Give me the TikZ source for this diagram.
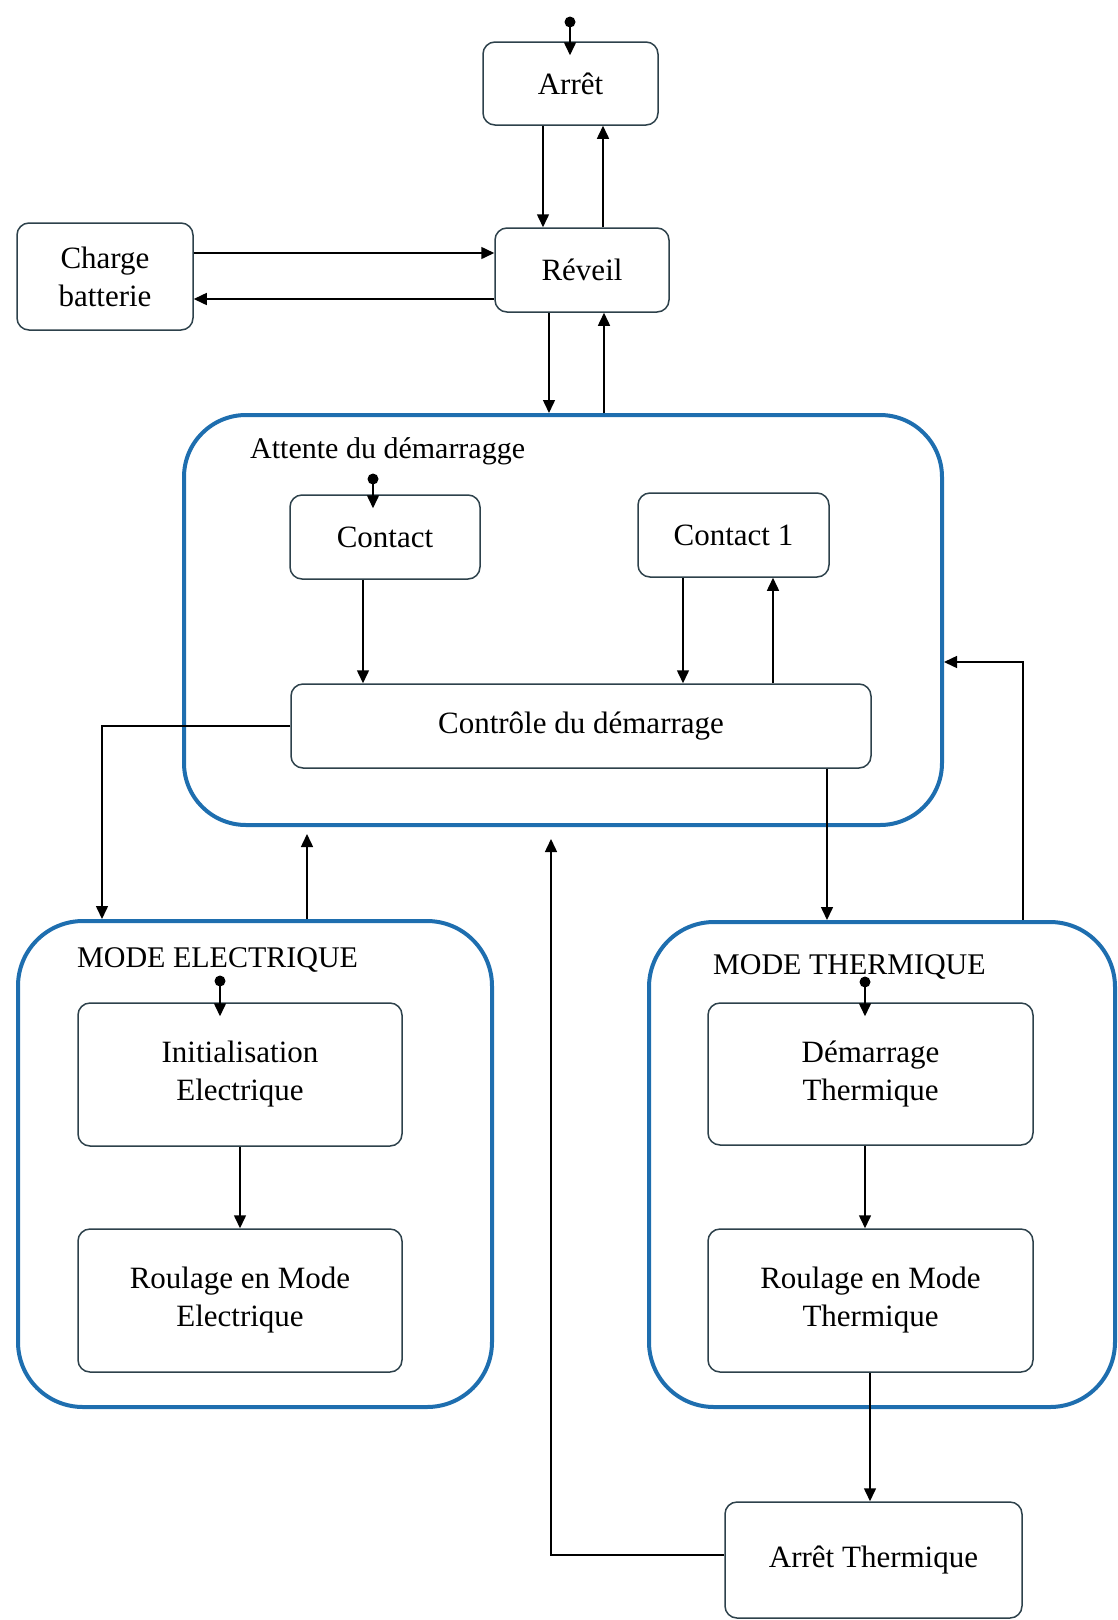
\documentclass[tikz,border=0pt]{standalone}
\usepackage{fontspec}
\setmainfont{Liberation Serif}
\usetikzlibrary{arrows.meta,calc}
\definecolor{contblue}{RGB}{30,110,175}
\definecolor{boxline}{RGB}{45,65,75}
\begin{document}
\begin{tikzpicture}[x=1pt,y=-1pt,
  statebox/.style={draw=boxline,fill=white,line width=1.5pt,rounded corners=12pt,align=center,inner sep=0pt,font=\fontsize{31}{38}\selectfont},
  container/.style={draw=contblue,line width=4pt,inner sep=0pt},
  titletext/.style={anchor=west,inner sep=0pt,font=\fontsize{30}{38}\selectfont},
  conn/.style={draw=black,line width=1.5pt,-{Triangle[length=13pt,width=12pt]}},
  initconn/.style={conn,shorten >=-14pt},
  initdot/.style={circle,fill=black,inner sep=0pt,minimum size=11pt}
]
\useasboundingbox (0,0) rectangle (1118,1620);

% containers
\node[container,rounded corners=62pt,minimum width=758pt,minimum height=410pt] (attente) at (563,620) {};
\node[container,rounded corners=65pt,minimum width=474pt,minimum height=486pt] (modeE) at (255,1164) {};
\node[container,rounded corners=65pt,minimum width=466pt,minimum height=485pt] (modeT) at (882,1164.5) {};

% container titles
\node[titletext] (tA) at (250,451) {Attente du démarragge};
\node[titletext] (tE) at (77,960) {MODE ELECTRIQUE};
\node[titletext] (tT) at (713,967) {MODE THERMIQUE};

% states
\node[statebox,minimum width=175pt,minimum height=83pt] (arret) at (570.5,83.5) {Arrêt};
\node[statebox,minimum width=174pt,minimum height=84pt] (reveil) at (582,270) {Réveil};
\node[statebox,minimum width=176pt,minimum height=107pt] (charge) at (105,276.5) {Charge\\batterie};
\node[statebox,minimum width=190pt,minimum height=84pt] (contact) at (385,537) {Contact};
\node[statebox,minimum width=191pt,minimum height=84pt] (contact1) at (733.5,535) {Contact 1};
\node[statebox,minimum width=580pt,minimum height=84pt] (controle) at (581,726) {Contrôle du démarrage};
\node[statebox,minimum width=324pt,minimum height=143pt] (initE) at (240,1074.5) {Initialisation\\Electrique};
\node[statebox,minimum width=324pt,minimum height=143pt] (roulE) at (240,1300.5) {Roulage en Mode\\Electrique};
\node[statebox,minimum width=325pt,minimum height=142pt] (demT) at (870.5,1074) {Démarrage\\Thermique};
\node[statebox,minimum width=325pt,minimum height=143pt] (roulT) at (870.5,1300.5) {Roulage en Mode\\Thermique};
\node[statebox,minimum width=297pt,minimum height=116pt] (arretT) at (873.5,1560) {Arrêt Thermique};

% initial dots
\node[initdot] (d0) at (570,22) {};
\node[initdot] (d1) at (373,479) {};
\node[initdot] (d2) at (220,981) {};
\node[initdot] (d3) at (865,982) {};

% helper coordinates
\coordinate (xa) at (543,0);
\coordinate (xb) at (603,0);
\coordinate (xc) at (549,0);
\coordinate (xd) at (604,0);
\coordinate (xe) at (363,0);
\coordinate (xf) at (683,0);
\coordinate (xg) at (773,0);
\coordinate (xL) at (102,0);
\coordinate (xU) at (307,0);
\coordinate (xM) at (827,0);
\coordinate (xR) at (1023,0);
\coordinate (xB) at (551,0);
\coordinate (xT) at (870,0);
\coordinate (ya) at (0,253);
\coordinate (yb) at (0,299);
\coordinate (yR) at (0,662);
\coordinate (yB) at (0,1555);

% connectors
\draw[initconn] (d0.center) -- (d0 |- arret.north);
\draw[conn] (arret.south -| xa) -- (reveil.north -| xa);
\draw[conn] (reveil.north -| xb) -- (arret.south -| xb);
\draw[conn] (charge.east |- ya) -- (reveil.west |- ya);
\draw[conn] (reveil.west |- yb) -- (charge.east |- yb);
\draw[conn] (reveil.south -| xc) -- (attente.north -| xc);
\draw[conn] (attente.north -| xd) -- (reveil.south -| xd);
\draw[initconn] (d1.center) -- (d1 |- contact.north);
\draw[conn] (contact.south -| xe) -- (controle.north -| xe);
\draw[conn] (contact1.south -| xf) -- (controle.north -| xf);
\draw[conn] (controle.north -| xg) -- (contact1.south -| xg);
\draw[conn] (controle.west) -- (controle.west -| xL) -- (xL |- modeE.north);
\draw[conn,shorten >=7pt] (modeE.north -| xU) -- (attente.south -| xU);
\draw[conn] (controle.south -| xM) -- (modeT.north -| xM);
\draw[conn] (modeT.north -| xR) -- (xR |- yR) -- (attente.east |- yR);
\draw[initconn] (d2.center) -- (d2 |- initE.north);
\draw[conn] (initE.south) -- (roulE.north);
\draw[initconn] (d3.center) -- (d3 |- demT.north);
\draw[conn] (demT.south -| d3) -- (roulT.north -| d3);
\draw[conn] (roulT.south -| xT) -- (arretT.north -| xT);
\draw[conn,shorten >=12pt] (arretT.west |- yB) -- (xB |- yB) -- (xB |- attente.south);
\end{tikzpicture}
\end{document}
